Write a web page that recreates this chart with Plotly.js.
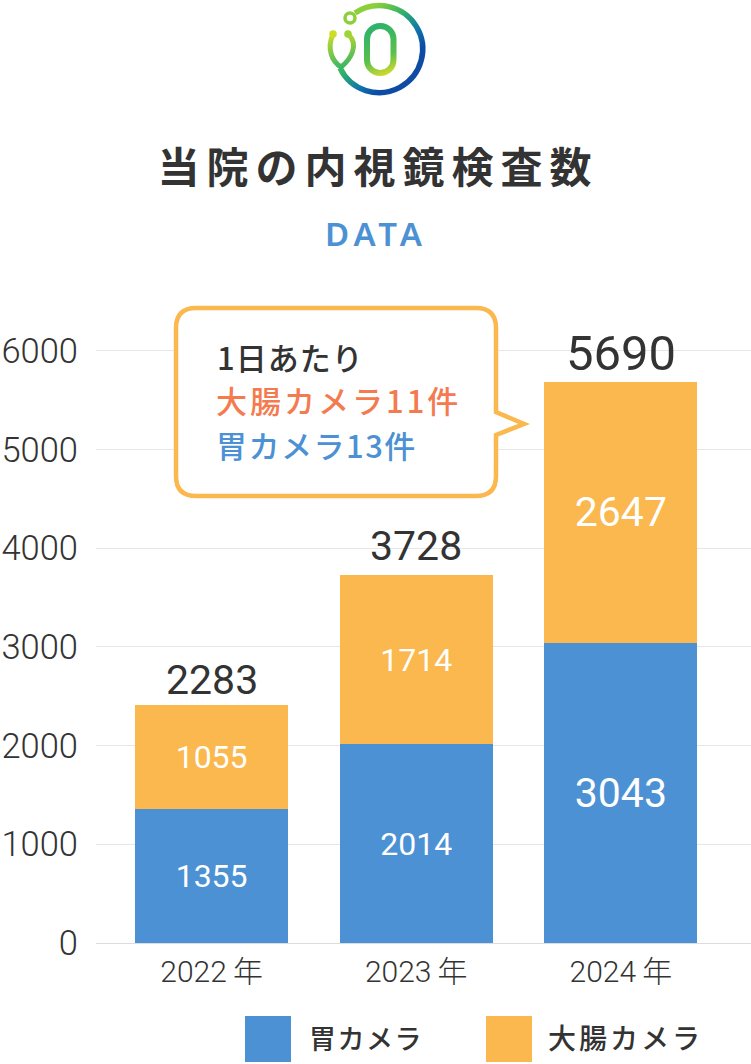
<!DOCTYPE html>
<html><head><meta charset="utf-8">
<script src="https://cdn.plot.ly/plotly-3.0.1.min.js"></script>
<style>html,body{margin:0;padding:0;background:#fff;overflow:hidden}#c{width:751px;height:1064px}</style>
</head><body><div id="c"></div>
<script>
const categories = ['2022\u2009年','2023\u2009年','2024\u2009年'];
const stomach = [1355,2014,3043];
const colon = [1055,1714,2647];
const totals = [2283,3728,5690];
const stomachFont = [32,32,41];
const colonFont = [32,32,41];
const totalFont = [41,41,49];
const seriesNames = ['胃カメラ','大腸カメラ'];
const BLUE='#4c91d4', ORANGE='#fab84e', DARK='#333333';
const JP='"Noto Sans CJK JP"';
const THIN='Roboto, "Noto Sans CJK JP"';
const L=96,T=346,B=943,R=751;
const px=x=>(x-L)/(R-L), py=y=>(B-y)/(B-T);
const pth=a=>a.map(s=>typeof s==='string'?s:px(s[0])+','+py(s[1])).join(' ');

const callout=pth(['M',[196,308],'L',[476,308],'Q',[496,308],[496,328],'L',[496,412],'L',[524,424],'L',[496,435],'L',[496,476],'Q',[496,496],[476,496],'L',[196,496],'Q',[176,496],[176,476],'L',[176,328],'Q',[176,308],[196,308],'Z']);

const logo=`<svg xmlns="http://www.w3.org/2000/svg" viewBox="320 0 120 100" width="480" height="400">
<defs>
<linearGradient id="a" gradientUnits="userSpaceOnUse" x1="350" y1="30" x2="400" y2="80"><stop offset="0" stop-color="#8ccf3a"/><stop offset=".35" stop-color="#2fb368"/><stop offset=".7" stop-color="#0f6fae"/><stop offset=".9" stop-color="#0a4ca5"/></linearGradient>
<linearGradient id="b" gradientUnits="userSpaceOnUse" x1="335" y1="32" x2="345" y2="70"><stop offset="0" stop-color="#cfdc28"/><stop offset="1" stop-color="#2fb368"/></linearGradient>
<linearGradient id="o" gradientUnits="userSpaceOnUse" x1="375" y1="28" x2="392" y2="75"><stop offset="0" stop-color="#2fb368"/><stop offset=".6" stop-color="#5cc04c"/><stop offset="1" stop-color="#e2dc2a"/></linearGradient>
<filter id="f"><feGaussianBlur stdDeviation="0.45"/></filter></defs>
<g fill="none" filter="url(#f)">
<path d="M355,13 A43.5,43.5 0 1 1 340,68" stroke="url(#a)" stroke-width="5.5"/>
<circle cx="350" cy="18" r="5" stroke="#8ccf3a" stroke-width="3.5"/>
<path d="M333,34 C326,50 333,62 341,67 C350,60 360,45 348,34" stroke="url(#b)" stroke-width="5"/>
<circle cx="333" cy="34" r="3.8" fill="#cfdc28"/><circle cx="348" cy="34" r="3.8" fill="#9fd434"/>
<rect x="367" y="26" width="26.5" height="47" rx="13" stroke="url(#o)" stroke-width="6"/>
</g></svg>`;

const label=(x,y,text,color,size,anchor,extra)=>Object.assign({xref:'paper',yref:'paper',x:px(x),y:py(y),text,showarrow:false,xanchor:anchor||'left',yanchor:'middle',font:{family:JP,size,color,weight:500}},extra||{});
const sp=(t,s)=>`<span style="letter-spacing:${s}px">${t}</span>`;

const annotations=[
  label(376,233,sp('DATA',5),BLUE,33,'center',{font:{family:'"Noto Sans"',size:33,color:BLUE,weight:600}}),
  label(215,356,sp('1日あたり',1),DARK,31),
  label(214,399,sp('大腸カメラ11件',3),'#f47b4f',31),
  label(214,444,sp('胃カメラ13件',1.5),BLUE,31),
  label(307,1037,sp(seriesNames[0],1.5),DARK,27),
  label(546,1037,sp(seriesNames[1],3),DARK,28)
];
totals.forEach((v,i)=>annotations.push({x:categories[i],y:stomach[i]+colon[i],yshift:[-1,3,-2][i],xref:'x',yref:'y',text:String(v),showarrow:false,xanchor:'center',yanchor:'bottom',font:{family:'Roboto',size:totalFont[i],color:DARK,weight:400}}));

const barText={family:'Roboto',color:'#fff',weight:400};
const data=[
 {type:'bar',name:seriesNames[0],x:categories,y:stomach,text:stomach.map(String),textposition:'inside',insidetextanchor:'middle',textangle:0,constraintext:'none',textfont:Object.assign({size:stomachFont},barText),marker:{color:BLUE},hoverinfo:'none'},
 {type:'bar',name:seriesNames[1],x:categories,y:colon,text:colon.map(String),textposition:'inside',insidetextanchor:'middle',textangle:0,constraintext:'none',textfont:Object.assign({size:colonFont},barText),marker:{color:ORANGE},hoverinfo:'none'}
];
const layout={
 width:751,height:1064,paper_bgcolor:'#fff',plot_bgcolor:'#fff',showlegend:false,barmode:'stack',bargap:0.252,
 margin:{l:L,r:0,t:T,b:1064-B,pad:0},
 title:{text:'<span style="letter-spacing:7px">当院の内視鏡検査数</span>',x:378/751,xref:'container',xanchor:'center',y:1-168/1064,yref:'container',yanchor:'middle',font:{family:JP,size:42,color:DARK,weight:700}},
 xaxis:{type:'category',range:[-0.565,2.636],showgrid:false,zeroline:false,showline:false,ticks:'',tickfont:{family:THIN,size:30,color:DARK,weight:300},ticklabelstandoff:8},
 yaxis:{range:[0,6050],tickvals:[0,1000,2000,3000,4000,5000,6000],ticktext:['0','1000','2000','3000','4000','5000','6000'],gridcolor:'#e6e6e6',gridwidth:1,zeroline:true,zerolinecolor:'#dcdcdc',zerolinewidth:1,showline:false,ticks:'',tickfont:{family:THIN,size:34.5,color:DARK,weight:300},ticklabelstandoff:17},
 shapes:[
  {type:'path',xref:'paper',yref:'paper',path:callout,fillcolor:'#fff',line:{color:ORANGE,width:4.5},layer:'above'},
  {type:'rect',xref:'paper',yref:'paper',x0:px(245),x1:px(291),y0:py(1016),y1:py(1062),fillcolor:BLUE,line:{width:0}},
  {type:'rect',xref:'paper',yref:'paper',x0:px(486),x1:px(532),y0:py(1016),y1:py(1062),fillcolor:ORANGE,line:{width:0}}
 ],
 images:[{source:'data:image/svg+xml;charset=utf-8,'+encodeURIComponent(logo),xref:'paper',yref:'paper',x:px(320),y:py(0),sizex:120/(R-L),sizey:100/(B-T),xanchor:'left',yanchor:'top',sizing:'stretch',layer:'above'}],
 annotations
};
Plotly.newPlot('c',data,layout,{displayModeBar:false,staticPlot:true});
</script></body></html>
